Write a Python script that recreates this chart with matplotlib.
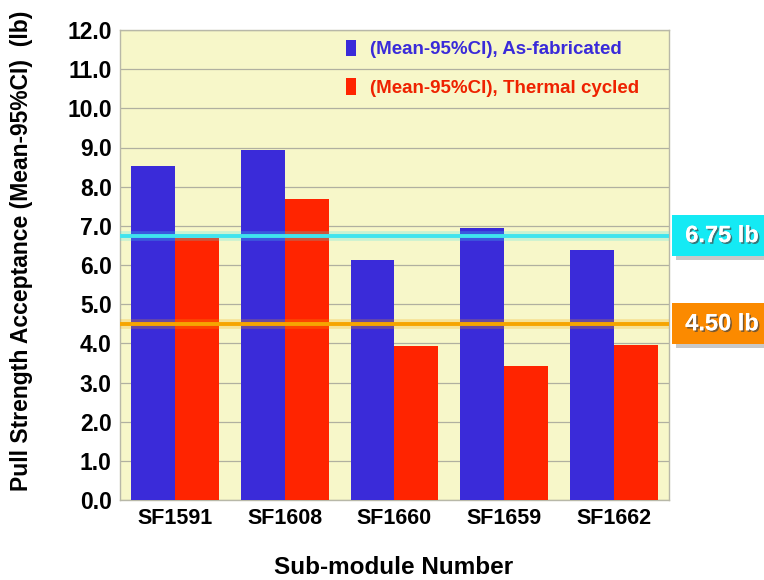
import matplotlib
matplotlib.use("Agg")
import matplotlib.pyplot as plt
import matplotlib.patheffects as pe
from matplotlib.patches import Rectangle, Patch
import numpy as np

plt.rcParams['font.family'] = ['Liberation Sans', 'DejaVu Sans']
plt.rcParams['font.weight'] = 'bold'

# Data
modules = ["SF1591", "SF1608", "SF1660", "SF1659", "SF1662"]
as_fabricated = [8.53, 8.94, 6.13, 6.94, 6.39]
thermal_cycled = [6.69, 7.68, 3.92, 3.41, 3.96]
series_labels = ["(Mean-95%CI), As-fabricated", "(Mean-95%CI), Thermal cycled"]
limit_values = [6.75, 4.50]
limit_labels = ["6.75 lb", "4.50 lb"]
y_ticks = np.arange(0, 12.01, 1.0)

blue = '#3a2bd9'
red = '#ff2400'
line_colors = ['#3fe4ee', '#f6a500']
box_colors = ['#14eaf4', '#fb8a00']

fig = plt.figure(figsize=(7.64, 5.80), dpi=100)
W, H = 764, 580
ax = fig.add_axes([120 / W, 1 - 500 / H, 549 / W, 470 / H])
ax.set_facecolor('#f7f7c9')

x = np.arange(len(modules))
bw = 0.4
ax.bar(x - bw / 2, as_fabricated, bw, color=blue, zorder=3, linewidth=0)
ax.bar(x + bw / 2, thermal_cycled, bw, color=red, zorder=3, linewidth=0)

ax.set_xlim(-0.5, len(modules) - 0.5)
ax.set_ylim(0, 12)
ax.set_yticks(y_ticks)
ax.set_yticklabels([f"{v:.1f}" for v in y_ticks], fontsize=16.5, fontweight='bold')
ax.set_xticks(x)
ax.set_xticklabels(modules, fontsize=15.5, fontweight='bold')
ax.tick_params(axis='both', length=0, pad=6)
ax.yaxis.grid(True, color='#b0b0a0', linewidth=0.9, zorder=1)
ax.set_axisbelow(True)
for s in ax.spines.values():
    s.set_color('#b8b8a8')
    s.set_linewidth(1.0)

# Acceptance limit lines with a soft glow
for val, col in zip(limit_values, line_colors):
    ax.axhline(val, color=col, linewidth=7, alpha=0.25, zorder=4)
    ax.axhline(val, color=col, linewidth=2.8, zorder=5)

# Limit value boxes at the right edge
for val, lab, col in zip(limit_values, limit_labels, box_colors):
    ypix = ax.transData.transform((0, val))[1]
    bh = 41
    left = 672
    shadow = Rectangle(((left + 4) / W, (ypix - bh / 2 - 4) / H), (W - left) / W, bh / H,
                       transform=fig.transFigure, facecolor='#777777', alpha=0.4,
                       edgecolor='none', zorder=1)
    box = Rectangle((left / W, (ypix - bh / 2) / H), (W - left) / W, bh / H,
                    transform=fig.transFigure, facecolor=col, edgecolor='none', zorder=2)
    fig.patches.extend([shadow, box])
    fig.text(722 / W, ypix / H, lab, color='white', fontsize=17, fontweight='bold',
             ha='center', va='center', zorder=3,
             path_effects=[pe.withSimplePatchShadow(offset=(1.2, -1.2),
                                                    shadow_rgbFace='#444444', alpha=0.7),
                           pe.Normal()])

# Legend
handles = [Patch(facecolor=blue, edgecolor='none'), Patch(facecolor=red, edgecolor='none')]
leg = ax.legend(handles, series_labels, loc='upper left',
                bbox_to_anchor=((338 - 120) / 549, (500 - 32) / 470),
                frameon=False, handlelength=0.55, handleheight=1.0,
                handletextpad=0.75, labelspacing=1.05, borderaxespad=0,
                labelcolor=[blue, '#ee2200'], prop={'weight': 'bold', 'size': 13.5})

fig.text(22 / W, 1 - 251 / H, "Pull Strength Acceptance (Mean-95%CI)  (lb)",
         rotation=90, ha='center', va='center', fontsize=16.5, fontweight='bold')
fig.text(394 / W, 1 - 567 / H, "Sub-module Number", ha='center', va='center',
         fontsize=17.5, fontweight='bold')

fig.savefig("out.png", dpi=100, facecolor='white')
